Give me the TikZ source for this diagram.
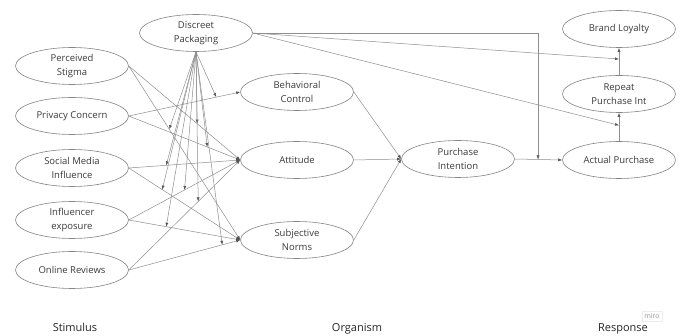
\documentclass[tikz,border=0pt]{standalone}
\usepackage{fontspec}
\setmainfont{Open Sans}
\usetikzlibrary{shapes.geometric,arrows.meta}
\definecolor{lnc}{HTML}{8E8E8E}
\definecolor{ovc}{HTML}{858585}
\definecolor{txc}{HTML}{3A3A3A}
\definecolor{tipc}{HTML}{555555}
\begin{document}
\begin{tikzpicture}[x=1pt,y=-1pt,
  oval/.style={ellipse,draw=ovc,line width=0.6pt,fill=white,minimum width=113pt,minimum height=37pt,inner sep=0pt,align=center,font=\fontsize{9.5}{13.5}\selectfont,text=txc},
  conn/.style={draw=lnc,line width=0.5pt,-{Latex[length=4pt,width=3pt,color=tipc]}},
  lbl/.style={anchor=base,font=\fontsize{11}{13}\selectfont,text=black!85}
  ]
\useasboundingbox[fill=white] (0,0) rectangle (680,336);

% nodes
\node[oval] (DP) at (196,33) {Discreet\\Packaging};
\node[oval] (PS) at (72,66) {Perceived\\Stigma};
\node[oval] (PC) at (72,116) {Privacy Concern};
\node[oval] (SMI) at (72,168) {Social Media\\Influence};
\node[oval] (IE) at (72,220) {Influencer\\exposure};
\node[oval] (OR) at (72,270) {Online Reviews};
\node[oval] (BC) at (297,92) {Behavioral\\Control};
\node[oval] (ATT) at (297,160) {Attitude};
\node[oval] (SN) at (297,240) {Subjective\\Norms};
\node[oval] (PI) at (458,159) {Purchase\\Intention};
\node[oval] (AP) at (619,160) {Actual Purchase};
\node[oval] (RPI) at (619,94) {Repeat\\Purchase Int};
\node[oval] (BL) at (619,29) {Brand Loyalty};

% stimulus -> organism
\draw[conn] (PC.east) -- coordinate[pos=0.785] (m1) (BC.west);
\draw[conn] (PS.east) -- coordinate[pos=0.363] (m2) (SN.west);
\draw[conn] (PS.east) -- coordinate[pos=0.614] (m3) (ATT.west);
\draw[conn] (PC.east) -- coordinate[pos=0.704] (m4) (ATT.west);
\draw[conn] (SMI.east) -- coordinate[pos=0.336] (m5) (ATT.west);
\draw[conn] (SMI.east) -- coordinate[pos=0.300] (m6) (SN.west);
\draw[conn] (IE.east) -- coordinate[pos=0.50] (m7) (ATT.west);
\draw[conn] (OR.east) -- coordinate[pos=0.623] (m8) (ATT.west);
\draw[conn] (IE.east) -- coordinate[pos=0.336] (m9) (SN.west);
\draw[conn] (OR.east) -- coordinate[pos=0.839] (m10) (SN.west);

% moderation by packaging
\foreach \m in {m1,m2,m3,m4,m5,m6,m7,m8,m9,m10}
  \draw[conn] (DP.south) -- (\m);

% organism -> purchase intention
\draw[conn] (BC.east) -- (PI.west);
\draw[conn] (ATT.east) -- (PI.west);
\draw[conn] (SN.east) -- (PI.west);

% response chain
\draw[conn] (PI.east) -- coordinate[pos=0.49] (m13) (AP.west);
\draw[conn] (AP.north) -- coordinate[pos=0.56] (m12) (RPI.south);
\draw[conn] (RPI.north) -- coordinate[pos=0.59] (m11) (BL.south);
\draw[conn] (DP.east) -| (m13);
\draw[conn] (DP.east) -- (m11);
\draw[conn] (DP.east) -- (m12);

% column labels
\node[lbl] (stim) at (75,332) {Stimulus};
\node[lbl] (org) at (357,332) {Organism};
\node[lbl] (resp) at (623,332) {Response};
\node[draw=black!7,text=black!40,font=\fontsize{7}{8}\selectfont,inner sep=2.5pt] (miro) at (652,316) {miro};
\end{tikzpicture}
\end{document}
